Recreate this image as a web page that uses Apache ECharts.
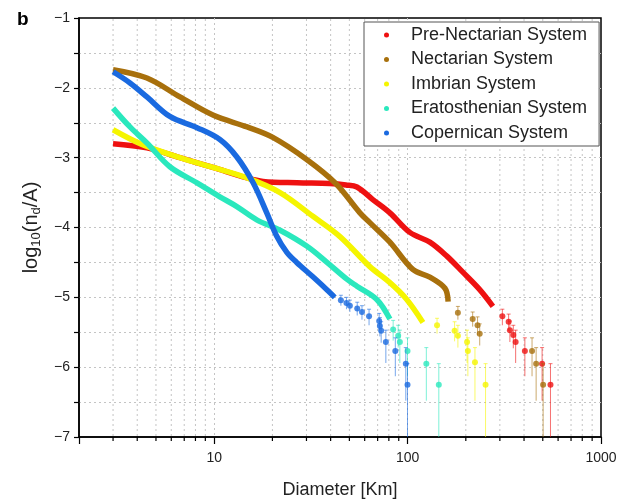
<!DOCTYPE html>
<html>
<head>
<meta charset="utf-8">
<script src="https://cdn.jsdelivr.net/npm/echarts@6/dist/echarts.min.js"></script>
<style>html,body{margin:0;padding:0;background:#fff}#c{width:630px;height:504px}</style>
</head>
<body>
<div id="c"></div>
<script>
// ---------- data ----------
const systems = ['Pre-Nectarian System','Nectarian System','Imbrian System','Eratosthenian System','Copernican System'];
const colors = ['#ee1111','#a8700c','#f5f500','#2ae8bd','#1a6ae0'];

const xTickLabels = [10, 100, 1000];
const xMinorTicks = [3,4,5,6,7,8,9,20,30,40,50,60,70,80,90,200,300,400,500,600,700,800,900];

// Pre-Nectarian
const preNecLineD = [3, 4.49, 6.65, 9.85, 14.8, 17.9, 26.8, 39.6, 48, 54.7, 66.1, 81, 102.7, 130.3, 159.6, 193, 236, 276];
const preNecLineV = [-2.80, -2.86, -3.00, -3.14, -3.29, -3.34, -3.36, -3.37, -3.39, -3.42, -3.60, -3.79, -4.07, -4.21, -4.41, -4.64, -4.89, -5.13];
const preNecTailD = [309, 333, 338, 352, 362, 404, 496, 548];
const preNecTailV = [-5.27, -5.35, -5.47, -5.54, -5.64, -5.77, -5.95, -6.25];
const preNecTailHi = [-5.17, -5.24, -5.34, -5.40, -5.47, -5.58, -5.72, -5.95];
const preNecTailLo = [-5.40, -5.48, -5.64, -5.73, -5.94, -6.13, -6.48, -7.5];

// Nectarian
const necLineD = [3, 4.49, 6.65, 9.85, 14.8, 20.1, 30.2, 42.5, 56.7, 63.8, 81, 106.4, 130.3, 156, 162];
const necLineV = [-1.74, -1.86, -2.13, -2.39, -2.56, -2.71, -3.03, -3.37, -3.79, -3.93, -4.21, -4.60, -4.71, -4.87, -5.06];
const necTailD = [182, 217, 230, 236, 440, 462, 502];
const necTailV = [-5.22, -5.31, -5.40, -5.52, -5.77, -5.95, -6.25];
const necTailHi = [-5.13, -5.21, -5.28, -5.38, -5.58, -5.72, -5.95];
const necTailLo = [-5.32, -5.42, -5.54, -5.69, -6.13, -6.48, -7.5];

// Imbrian
const imbLineD = [3, 4.23, 6.65, 9.85, 14.8, 21.9, 32.4, 44.7, 63.8, 81, 99, 120];
const imbLineV = [-2.60, -2.81, -3.00, -3.14, -3.29, -3.50, -3.84, -4.13, -4.56, -4.79, -5.03, -5.36];
const imbTailD = [142, 175, 182, 203, 205, 223, 253];
const imbTailV = [-5.40, -5.48, -5.55, -5.64, -5.77, -5.93, -6.25];
const imbTailHi = [-5.30, -5.35, -5.40, -5.47, -5.58, -5.72, -5.95];
const imbTailLo = [-5.52, -5.63, -5.72, -5.94, -6.13, -6.48, -7.5];

// Eratosthenian
const eraLineD = [3, 3.67, 4.49, 5.9, 8.15, 10.7, 13.1, 16.6, 21.9, 30.2, 38.3, 48.5, 54.7, 69.3, 81];
const eraLineV = [-2.29, -2.56, -2.79, -3.13, -3.36, -3.56, -3.70, -3.89, -4.04, -4.27, -4.50, -4.74, -4.84, -5.03, -5.31];
const eraTailD = [84.2, 89.4, 91.2, 99.9, 125, 145];
const eraTailV = [-5.46, -5.55, -5.64, -5.77, -5.95, -6.25];
const eraTailHi = [-5.33, -5.40, -5.47, -5.58, -5.72, -5.95];
const eraTailLo = [-5.62, -5.72, -5.94, -6.13, -6.48, -7.5];

// Copernican
const copLineD = [3, 3.67, 4.49, 5.9, 8.15, 10.7, 13.1, 15.9, 18.7, 21.1, 23.8, 26.7, 32.5, 39.6, 42];
const copLineV = [-1.77, -1.93, -2.13, -2.41, -2.57, -2.74, -2.99, -3.36, -3.79, -4.13, -4.36, -4.50, -4.71, -4.93, -5.00];
const copTailD = [45.2, 48.3, 50.3, 54.9, 58.1, 63.2, 71.3, 71.9, 73, 77.2, 86.4, 97.9, 99.9];
const copTailV = [-5.04, -5.08, -5.12, -5.16, -5.21, -5.27, -5.34, -5.41, -5.48, -5.64, -5.77, -5.95, -6.25];
const copTailHi = [-4.97, -5.00, -5.04, -5.07, -5.12, -5.17, -5.23, -5.29, -5.35, -5.47, -5.58, -5.72, -5.95];
const copTailLo = [-5.12, -5.17, -5.21, -5.26, -5.32, -5.40, -5.47, -5.56, -5.65, -5.94, -6.13, -6.48, -7.5];

// ---------- build ----------
const groups = [
  [preNecLineD, preNecLineV, preNecTailD, preNecTailV, preNecTailHi, preNecTailLo],
  [necLineD, necLineV, necTailD, necTailV, necTailHi, necTailLo],
  [imbLineD, imbLineV, imbTailD, imbTailV, imbTailHi, imbTailLo],
  [eraLineD, eraLineV, eraTailD, eraTailV, eraTailHi, eraTailLo],
  [copLineD, copLineV, copTailD, copTailV, copTailHi, copTailLo]
];
const FONT = 'Arial, "Liberation Sans", sans-serif';
const Y_MIN = -7, Y_MAX = -1;

const series = [];
// minor x grid lines + minor ticks
series.push({
  type: 'custom', name: 'xMinor', silent: true, clip: false, z: 1,
  data: xMinorTicks.map(v => [v, Y_MIN]),
  encode: {x: 0, y: 1},
  renderItem: function (params, api) {
    const top = api.coord([api.value(0), Y_MAX]);
    const bot = api.coord([api.value(0), Y_MIN]);
    return {type: 'group', children: [
      {type: 'line', shape: {x1: top[0], y1: top[1] + 1, x2: bot[0], y2: bot[1] - 1},
       style: {stroke: '#c4c4c4', lineWidth: 1, lineDash: [2, 3]}},
      {type: 'line', shape: {x1: bot[0], y1: bot[1], x2: bot[0], y2: bot[1] + 4},
       style: {stroke: '#000', lineWidth: 1.2}}
    ]};
  }
});

groups.forEach((g, i) => {
  const [lD, lV, tD, tV, tHi, tLo] = g;
  const col = colors[i];
  series.push({
    type: 'line', name: systems[i], data: lD.map((d, k) => [d, lV[k]]),
    smooth: 0.35, showSymbol: false, symbol: 'circle', z: 3 + i,
    lineStyle: {color: col, width: 5.5}, itemStyle: {color: col}
  });
  series.push({
    type: 'custom', name: systems[i], z: 3 + i,
    data: tD.map((d, k) => [d, tLo[k], tHi[k]]),
    encode: {x: 0, y: [1, 2]},
    renderItem: function (params, api) {
      const x = api.value(0);
      const pB = api.coord([x, Math.max(api.value(1), Y_MIN)]);
      const pT = api.coord([x, api.value(2)]);
      return {type: 'group', children: [
        {type: 'line', shape: {x1: pB[0], y1: pB[1], x2: pT[0], y2: pT[1]}, style: {stroke: col, lineWidth: 1, opacity: 0.6}},
        {type: 'line', shape: {x1: pT[0] - 2, y1: pT[1], x2: pT[0] + 2, y2: pT[1]}, style: {stroke: col, lineWidth: 1, opacity: 0.6}}
      ]};
    }
  });
  series.push({
    type: 'scatter', name: systems[i], data: tD.map((d, k) => [d, tV[k]]),
    symbol: 'circle', symbolSize: 6, z: 3 + i, itemStyle: {color: col}
  });
});

const chart = echarts.init(document.getElementById('c'), null, {renderer: 'canvas'});
chart.setOption({
  animation: false,
  backgroundColor: '#fff',
  title: {text: 'b', left: 12, top: 5, textStyle: {fontSize: 19, fontWeight: 'bold', fontFamily: FONT, color: '#000'}},
  grid: {left: 79, right: 29, top: 18, bottom: 67, show: true, borderColor: '#000', borderWidth: 1.5, backgroundColor: 'transparent'},
  legend: {
    data: systems.map(s => ({name: s, icon: 'circle'})),
    orient: 'vertical', left: 364, top: 22,
    itemWidth: 5, itemHeight: 5, itemGap: 6.5,
    padding: [4, 12, 4, 20],
    borderColor: '#555', borderWidth: 1, backgroundColor: '#fff',
    textStyle: {fontSize: 18, fontFamily: FONT, color: '#222', lineHeight: 18, padding: [0, 0, 0, 17]}
  },
  xAxis: {
    type: 'log', logBase: 10, min: 2, max: 1000,
    name: 'Diameter [Km]', nameLocation: 'middle', nameGap: 44,
    nameTextStyle: {fontSize: 18, fontFamily: FONT, color: '#222'},
    axisLine: {lineStyle: {color: '#000', width: 1.5}},
    axisTick: {length: 7, lineStyle: {color: '#000', width: 1.2}},
    axisLabel: {fontSize: 14, fontFamily: FONT, color: '#222', margin: 14,
      formatter: v => xTickLabels.some(t => Math.abs(t - v) / t < 1e-6) ? String(Math.round(v)) : ''},
    splitLine: {show: true, showMinLine: false, showMaxLine: false, lineStyle: {color: '#c4c4c4', type: [2, 3], width: 1}}
  },
  yAxis: {
    type: 'value', min: Y_MIN, max: Y_MAX, interval: 0.5,
    name: '{n|log}{s|10}{n|(n}{s|d}{n|/A)}', nameLocation: 'middle', nameGap: 33, nameRotate: 90,
    nameTextStyle: {fontFamily: FONT, color: '#222', rich: {
      n: {fontSize: 20, fontFamily: FONT, color: '#222'},
      s: {fontSize: 13, fontFamily: FONT, color: '#222', padding: [10, 0, 0, 0]}
    }},
    axisLine: {show: true, lineStyle: {color: '#000', width: 1.5}},
    axisTick: {show: true, length: 5, lineStyle: {color: '#000', width: 1.2}},
    axisLabel: {fontSize: 14, fontFamily: FONT, color: '#222', margin: 9,
      formatter: v => Math.abs(v - Math.round(v)) < 1e-6 ? String(v).replace('-', '\u2212') : ''},
    splitLine: {show: true, showMinLine: false, showMaxLine: false, lineStyle: {color: '#c4c4c4', type: [2, 3], width: 1}}
  },
  series: series
});
</script>
</body>
</html>
